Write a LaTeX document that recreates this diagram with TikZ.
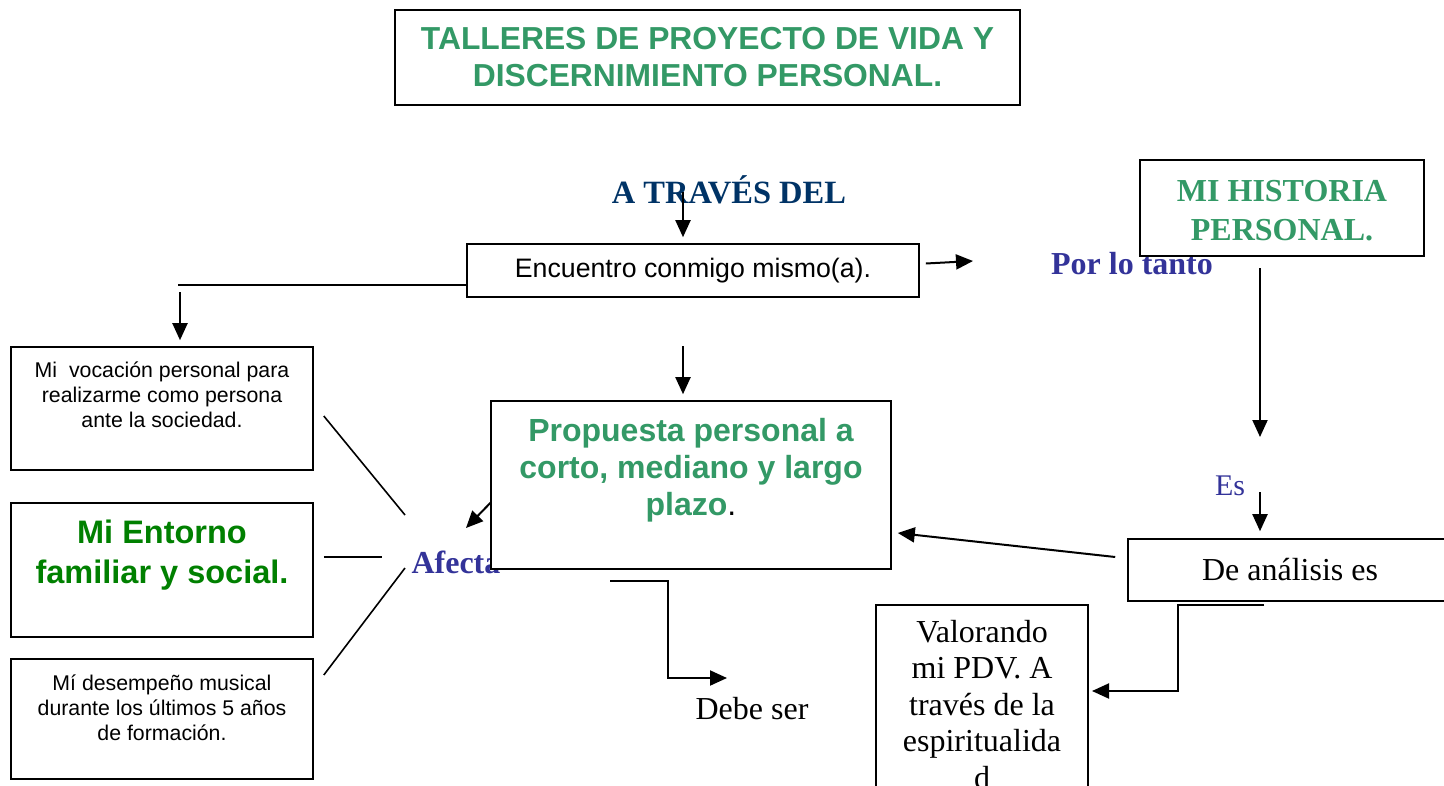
\documentclass[tikz,border=0pt]{standalone}
\usepackage{fontspec}
\setmainfont{Liberation Serif}
\setsansfont{Liberation Sans}
\usetikzlibrary{arrows.meta}
\definecolor{titlegreen}{RGB}{51,153,102}
\definecolor{darkgreen}{RGB}{0,128,0}
\definecolor{navy}{RGB}{0,51,102}
\definecolor{indigo}{RGB}{51,51,153}
\tikzset{
  box/.style={draw, line width=1.6pt, fill=white, inner sep=0pt},
  arr/.style={-{Triangle[length=17pt,width=15pt]}, line width=2pt},
  ln/.style={line width=1.6pt},
  small/.style={font=\sffamily\fontsize{21.3}{24.8}\selectfont, align=center, inner sep=0pt, anchor=north},
}
\begin{document}
\begin{tikzpicture}[x=1pt,y=-1pt]
\useasboundingbox (0,0) rectangle (1444,785);
\clip (0,0) rectangle (1444,785);
% title
\node[box, minimum width=625pt, minimum height=95pt, align=center, text=titlegreen,
  font=\sffamily\bfseries\fontsize{31.8}{37}\selectfont] (title) at (707.5,57.5)
  {TALLERES DE PROYECTO DE VIDA Y\\DISCERNIMIENTO PERSONAL.};
\node[text=navy, font=\bfseries\fontsize{32.5}{36}\selectfont] (traves) at (729,190) {A TRAVÉS DEL};
\node[box, minimum width=452pt, minimum height=53pt, font=\sffamily\fontsize{26.7}{30}\selectfont] (encuentro) at (693,270.5) {Encuentro conmigo mismo(a).};
\node[text=indigo, font=\bfseries\fontsize{32}{36}\selectfont] (portanto) at (1132,264) {Por lo tanto};
\node[box, minimum width=284pt, minimum height=96pt] (historia) at (1282,208) {};
\node[align=center, text=titlegreen, font=\bfseries\fontsize{32}{39}\selectfont] (histtxt) at (1282,211) {MI HISTORIA\\PERSONAL.};
\node[text=indigo, font=\fontsize{30}{36}\selectfont] (es) at (1230,486) {Es};
\node[box, minimum width=324pt, minimum height=62pt, font=\fontsize{32}{36}\selectfont] (analisis) at (1290,570) {De análisis es};
% valorando
\node[box, minimum width=212pt, minimum height=215pt] (valora) at (982,712.5) {};
\node[small, font=\fontsize{32}{36.5}\selectfont] (valtxt) at (982,620) {Valorando\\mi PDV. A\\través de la\\espiritualida\\d};
% afecta, under the proposal box
\node[text=indigo, font=\bfseries\fontsize{32}{36}\selectfont, anchor=west] (afecta) at (408,562) {Afecta};
\node[box, minimum width=400pt, minimum height=168pt] (propuesta) at (691,485) {};
\node[small, text=titlegreen, font=\sffamily\bfseries\fontsize{32}{37}\selectfont] (proptxt) at (691,418)
  {Propuesta personal a\\corto, mediano y largo\\plazo\textcolor{black}{\mdseries .}};
\node[font=\fontsize{32}{36}\selectfont] (debe) at (752,709) {Debe ser};
% left boxes
\node[box, minimum width=302pt, minimum height=123pt] (vocacion) at (162,408.5) {};
\node[small] at (162,362) {Mi\ \ vocación personal para\\realizarme como persona\\ante la sociedad.};
\node[box, minimum width=302pt, minimum height=134pt] (entorno) at (162,570) {};
\node[small, text=darkgreen, font=\sffamily\bfseries\fontsize{32.5}{40}\selectfont] at (162,520) {Mi Entorno\\familiar y social.};
\node[box, minimum width=302pt, minimum height=120pt] (musical) at (162,719) {};
\node[small] at (162,675) {Mí desempeño musical\\durante los últimos 5 años\\de formación.};
% connectors
\coordinate (c1) at (683,192);
\coordinate (c2) at (178,285);
\coordinate (c3) at (180,292);
\coordinate (c4) at (973,261);
\coordinate (c5) at (1260,268);
\coordinate (c5b) at (1260,437);
\coordinate (c6) at (1260,492);
\coordinate (c7) at (1264,605);
\coordinate (c7b) at (1092,691);
\coordinate (c8) at (683,346);
\coordinate (c9) at (466,528);
\coordinate (c10) at (610,581);
\coordinate (c10b) at (727,678);
\coordinate (c11) at (405,515);
\coordinate (c12) at (382,557);
\coordinate (c13) at (405,568);
\draw[arr] (c1) -- ([xshift=-10pt,yshift=6pt]encuentro.north);
\draw[ln] ([yshift=-14.5pt]encuentro.west) -- (c2);
\draw[arr] (c3) -- ([xshift=18pt,yshift=6pt]vocacion.north);
\draw[arr] ([xshift=6pt,yshift=7pt]encuentro.east) -- (c4);
\draw[arr] (c5) -- (c5b);
\draw[arr] (c6) -- ([xshift=-30pt,yshift=7pt]analisis.north);
\draw[arr] ([xshift=-12pt,yshift=13pt]analisis.west) -- ([xshift=6pt,yshift=-48pt]propuesta.east);
\draw[arr] (c7) -| (1178,691) -- (c7b);
\draw[arr] (c8) -- ([xshift=-8pt,yshift=6pt]propuesta.north);
\draw[arr] ([xshift=1pt,yshift=-17pt]propuesta.west) -- (c9);
\draw[arr] (c10) -| (668,678) -- (c10b);
\draw[ln] ([xshift=10pt,yshift=-7.5pt]vocacion.east) -- (c11);
\draw[ln] ([xshift=10pt,yshift=13pt]entorno.east) -- (c12);
\draw[ln] ([xshift=10pt,yshift=44pt]musical.east) -- (c13);
\end{tikzpicture}
\end{document}
